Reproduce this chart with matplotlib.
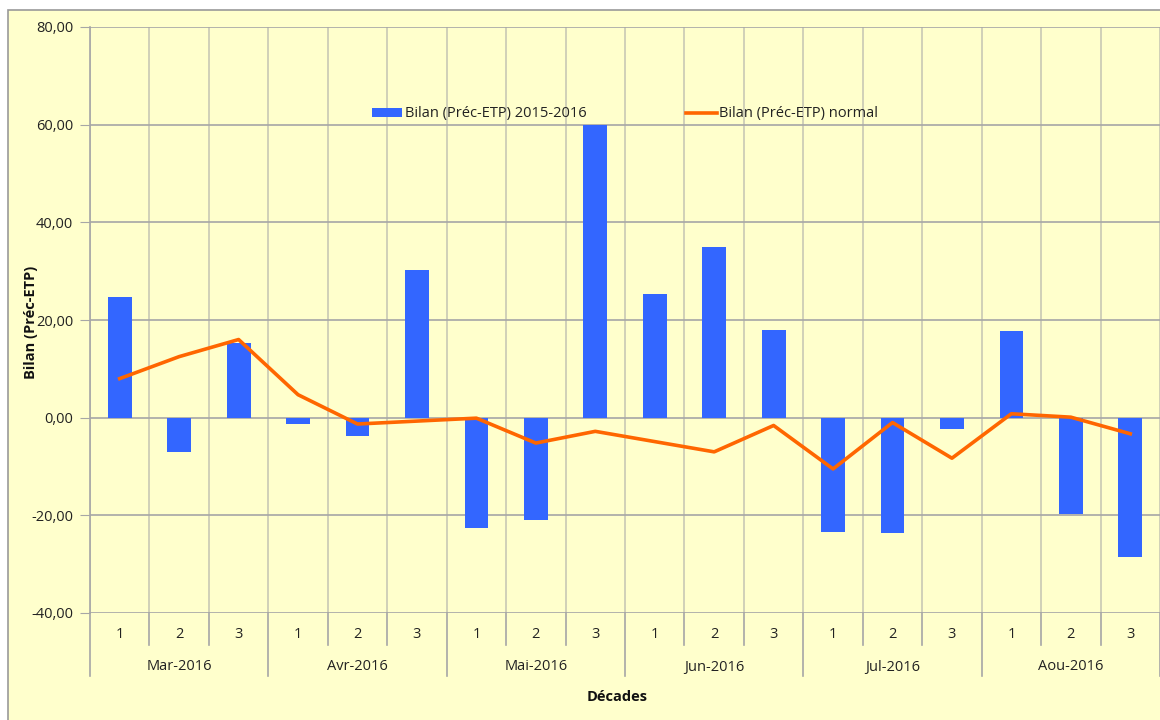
import numpy as np
import matplotlib
matplotlib.use('Agg')
import matplotlib.pyplot as plt
from matplotlib.patches import Rectangle
from matplotlib.transforms import blended_transform_factory

plt.rcParams['font.family'] = ['Open Sans', 'DejaVu Sans']

# data
months = ['Mar-2016', 'Avr-2016', 'Mai-2016', 'Jun-2016', 'Jul-2016', 'Aou-2016']
decades = ['1', '2', '3']
bilan_2016 = [24.8, -7.0, 15.3, -1.3, -3.8, 30.3, -22.6, -20.9, 60.0,
              25.4, 35.0, 18.0, -23.4, -23.6, -2.3, 17.8, -19.7, -28.5]
bilan_normal = [8.0, 12.5, 16.0, 4.7, -1.3, -0.7, -0.1, -5.2, -2.8,
                -4.9, -7.0, -1.6, -10.5, -1.0, -8.3, 0.8, 0.1, -3.3]
yticks = [-40, -20, 0, 20, 40, 60, 80]

W, H = 1160, 720
bg = '#FFFFCC'
grid_c = '#A6A6A6'
fs = 10.5

fig = plt.figure(figsize=(W / 100, H / 100), dpi=100)
fig.patch.set_facecolor('white')
fig.patches.append(Rectangle((8 / W, -0.05), 1.1, (H - 10) / H + 0.05,
                             transform=fig.transFigure, facecolor=bg,
                             edgecolor='#999999', linewidth=1.2, zorder=-10))

ax = fig.add_axes([90 / W, 1 - 613 / H, (1160 - 90) / W, 586 / H])
ax.set_facecolor(bg)
ax.set_zorder(1)

n = len(bilan_2016)
x = np.arange(n)
bars = ax.bar(x, bilan_2016, width=0.4, color='#3366FF', zorder=3,
              label='Bilan (Préc-ETP) 2015-2016')
line, = ax.plot(x, bilan_normal, color='#FF6600', linewidth=2.6, zorder=4,
                label='Bilan (Préc-ETP) normal')

ax.set_xlim(-0.5, n - 0.5)
ax.set_ylim(-40, 80)
ax.set_yticks(yticks)
ax.set_yticklabels([f'{v:.2f}'.replace('.', ',') for v in yticks],
                   fontsize=fs, color='#222222')
ax.tick_params(axis='y', length=7, color=grid_c, pad=5)

# gridlines
ax.set_xticks(np.arange(-0.5, n, 1.0), minor=True)
ax.set_xticks([])
ax.grid(True, which='minor', axis='x', color='#C8C8B4', linewidth=1.2, zorder=0)
ax.grid(True, which='major', axis='y', color=grid_c, linewidth=1.2, zorder=1)
ax.tick_params(axis='x', which='minor', length=0)
ax.set_axisbelow(True)

for s in ['top', 'right', 'bottom']:
    ax.spines[s].set_visible(False)
ax.spines['left'].set_color(grid_c)
ax.spines['left'].set_linewidth(1.2)

# two-level category axis
tr = blended_transform_factory(ax.transData, ax.transAxes)
tick_len = 32 / 586
grp_len = 63 / 586
for i in range(n + 1):
    b = i - 0.5
    is_grp = i % 3 == 0
    ax.plot([b, b], [0, -(grp_len if is_grp else tick_len)], transform=tr,
            color=grid_c, linewidth=1.2, clip_on=False)
for i in range(n):
    ax.text(i, -22 / 586, decades[i % 3], transform=tr, ha='center',
            va='center', fontsize=fs, color='#222222')
for g, m in enumerate(months):
    ax.text(g * 3 + 1, -54 / 586, m, transform=tr, ha='center', va='center',
            fontsize=fs, color='#222222')

leg = ax.legend([bars, line], [bars.get_label(), line.get_label()],
                loc='center', bbox_to_anchor=(625 / W, 1 - 114 / H),
                bbox_transform=fig.transFigure, ncol=2, frameon=False,
                fontsize=fs, handlelength=2.1, handleheight=0.6,
                columnspacing=6.8, handletextpad=0.2)
for t in leg.get_texts():
    t.set_color('#222222')

fig.text(31 / W, 1 - 322 / H, 'Bilan (Préc-ETP)', rotation=90, ha='center',
         va='center', fontsize=fs, fontweight='bold', color='#111111')
fig.text(617 / W, 1 - 697 / H, 'Décades', ha='center', va='center',
         fontsize=fs, fontweight='bold', color='#111111')

fig.savefig('out.png', dpi=100, facecolor=fig.get_facecolor())
